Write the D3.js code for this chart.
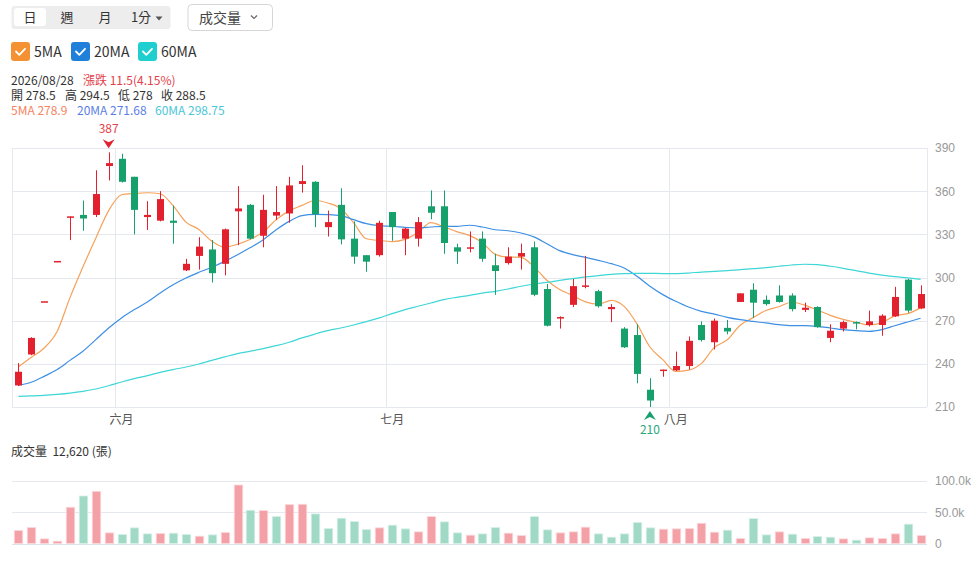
<!DOCTYPE html>
<html lang="zh-Hant">
<head>
<meta charset="UTF-8">
<title>K線圖</title>
<script src="https://cdn.jsdelivr.net/npm/d3@7"></script>
<style>
    html, body { margin: 0; padding: 0; background: #fff; }
    svg { display: block; font-family: "Noto Sans CJK TC", "Noto Sans", sans-serif; }
</style>
</head>
<body>
<div id="chart"></div>
<script>
// trading days (MM/DD), 2026
const dates = [
    "05/20","05/21","05/22","05/25","05/26","05/27","05/28","05/29",
    "06/01","06/02","06/03","06/04","06/05","06/08","06/09","06/10","06/11","06/12",
    "06/15","06/16","06/17","06/18","06/22","06/23","06/24","06/25","06/26","06/29","06/30",
    "07/01","07/02","07/03","07/06","07/07","07/08","07/09","07/10","07/13","07/14","07/15",
    "07/16","07/17","07/20","07/21","07/22","07/23","07/24","07/27","07/28","07/29","07/31",
    "08/03","08/04","08/05","08/06","08/07","08/10","08/11","08/12","08/13","08/14",
    "08/17","08/18","08/19","08/20","08/21","08/24","08/25","08/26","08/27","08/28"
];
const opens = [
    225, 246.5, 283.5, 311.5, 342.5, 343.5, 343.5, 377.5, 382.5, 370,
    342, 339.5, 339.5, 305, 315, 319.5, 309.5, 346, 350.5, 329,
    343, 344.5, 365, 366.5, 335, 350.5, 327, 315.5, 315.5, 345.5,
    327, 327, 349.5, 349.5, 321, 320, 327, 308.5, 310, 314.5,
    321, 292, 272, 281, 293.5, 290.5, 278, 264.5, 260, 222,
    236, 235.5, 238.5, 267, 255, 265, 283, 291.5, 284.5, 287.5,
    287.5, 277.5, 279.5, 258, 264.5, 269, 267, 267, 273, 298.5, 278.5
];
const highs = [
    240.5, 258.5, 283.5, 311.5, 342.5, 353.5, 374.5, 387, 386, 370,
    353, 360, 350, 313, 328, 326, 334, 363.5, 351, 357.5,
    363.5, 370, 378, 367, 346.5, 362, 339, 315.5, 339.5, 345.5,
    334.5, 342, 360.5, 360.5, 323.5, 332, 332, 316.5, 321, 323.5,
    325, 295.5, 273, 299, 315, 291.5, 281.5, 265.5, 267.5, 230,
    236, 248.5, 259, 269.5, 271.5, 270.5, 289, 296, 287.5, 294.5,
    289, 282.5, 280, 267.5, 270, 269.5, 277, 274.5, 293.5, 299, 294.5
];
const lows = [
    224.5, 246, 283.5, 311.5, 326, 332.5, 342, 367.5, 366, 330,
    333, 339, 323.5, 304.5, 305.5, 296.5, 301.5, 322.5, 326.5, 321,
    340, 338, 359, 335, 328.5, 323, 309.5, 304, 314.5, 325.5,
    315.5, 321.5, 340.5, 316.5, 309.5, 317.5, 311, 288, 309, 305.5,
    287, 266, 264.5, 279.5, 292.5, 279, 269, 251, 226.5, 210,
    231, 235, 236, 255.5, 250, 260.5, 283, 272, 280.5, 282.5,
    276.5, 276, 265, 255, 262.5, 264, 266, 259.5, 272.5, 275.5, 278
];
const closes = [
    234.5, 258, 283.5, 311.5, 342.5, 341, 358, 379.5, 366.5, 347,
    343.5, 354.5, 338, 309.5, 321.5, 303, 333.5, 348, 327, 347,
    345.5, 364, 367, 344, 338.5, 326.5, 314.5, 311, 338, 335,
    334, 338.5, 345, 324, 318, 321, 313, 304.5, 314.5, 317,
    288, 266.5, 272.5, 294, 294.5, 280, 279.5, 251.5, 233, 214.5,
    236, 238.5, 256, 256.5, 270, 262.5, 289, 282.5, 281.5, 283,
    278, 279, 265.5, 263, 269, 268, 269.5, 273.5, 286.5, 277, 288.5
];
const prevClose = 225; // close of the day before the first candle
const volumes = [
    20700, 25500, 7400, 3700, 58000, 76000, 83500, 17000, 14400, 25000,
    15400, 16000, 16500, 14400, 11700, 13800, 17600, 93600, 53200, 52700,
    43000, 62200, 62800, 47300, 23900, 40400, 35100, 22300, 25000, 29300,
    23400, 18600, 43100, 34600, 17000, 13300, 15400, 25500, 16500, 12800,
    43100, 21800, 17000, 18600, 26100, 15400, 10100, 15400, 33500, 25000,
    22900, 23400, 23900, 32400, 18100, 21300, 8000, 39900, 13800, 18600,
    14900, 8000, 11200, 10100, 7400, 5300, 9000, 8000, 15400, 30900, 12620
];
const ma5 = [
    238, 244.5, 251, 262.5, 286, 307.3, 327.3, 346.5, 357.5, 358.4,
    358.9, 358.2, 349.9, 338.5, 333.4, 325.3, 321.1, 323.1, 326.6, 331.7,
    340.2, 346.3, 350.1, 353.5, 351.8, 348, 338.1, 326.9, 325.7, 325,
    326.5, 331.3, 338.1, 335.3, 331.9, 329.3, 324.2, 316.1, 314.2, 314,
    307.4, 298.1, 291.7, 287.6, 283.1, 281.5, 284.1, 279.9, 267.7, 251.7,
    242.9, 234.7, 235.6, 240.3, 251.4, 256.7, 266.8, 272.1, 277.1, 279.7,
    282.8, 280.8, 277.4, 273.7, 270.9, 268.9, 267, 268.6, 273.3, 274.9, 278.9
];
const ma20 = [
    225.1, 227.2, 231.3, 236, 242.4, 248.7, 256.8, 264.9, 271.9, 277.7,
    283, 289.2, 295, 299.7, 303.6, 307.1, 311.2, 315.8, 320.8, 326.3,
    333.2, 339, 343, 343.9, 343.7, 343, 340.2, 337.4, 336, 335.6,
    334.9, 334.4, 335.1, 335.6, 335.6, 336.3, 335.1, 333.2, 332.5, 330.9,
    328.2, 323.5, 318.7, 315.9, 314, 311.9, 309.6, 306.6, 300.8, 293.9,
    288.1, 283.5, 279.5, 276.5, 274.5, 272.3, 270.7, 269.5, 268.4, 267.2,
    266.5, 266.5, 266, 264.9, 263.8, 263.1, 262.6, 263.8, 266.5, 269.1, 271.68
];
const ma60 = [
    217.4, 217.7, 218.1, 218.8, 219.7, 220.9, 222.5, 224.8, 227.4, 229.7,
    231.8, 234.1, 236, 237.8, 239.9, 242.4, 244.8, 247.1, 248.8, 250.6,
    252.6, 255, 258, 260.7, 263.1, 264.9, 267, 269.3, 271.9, 274.9,
    277.7, 280, 282.3, 284.6, 286.2, 287.6, 289.2, 290.4, 292, 293.9,
    295.5, 296.6, 298, 299.2, 300.4, 301.3, 302.2, 302.7, 302.9, 302.9,
    302.7, 302.7, 303.1, 303.8, 304.3, 304.8, 305.5, 306.1, 306.8, 307.8,
    308.7, 309.2, 308.9, 307.8, 306.4, 304.8, 303.1, 301.7, 300.6, 299.7, 298.75
];
const priceTicks = [210, 240, 270, 300, 330, 360, 390];
const volTicks = [0, 50000, 100000];
const monthLabels = { "06": "六月", "07": "七月", "08": "八月" };
const periods = ["日", "週", "月", "1分"];
const maNames = ["5MA", "20MA", "60MA"];

const w = 978, h = 563;
const left = 12, right = 927;
const upColor = "#e3202d", downColor = "#16a06c";
const maColors = ["#f6a15a", "#3d8fe4", "#3fd6d6"];
const maTextColors = ["#f4845f", "#5b7fe6", "#4cc6d8"];
const gridColor = "#e6e8ef";

const svg = d3.select("#chart").append("svg")
    .attr("width", w)
    .attr("height", h);

// ---------- top controls ----------
svg.append("rect")
    .attr("x", 11.5).attr("y", 6).attr("width", 159).attr("height", 23)
    .attr("rx", 3).attr("fill", "#ededed");
svg.append("rect")
    .attr("x", 14).attr("y", 8).attr("width", 32).attr("height", 18)
    .attr("rx", 3).attr("fill", "#fff");
const periodX = [30, 67, 105, 141];
svg.selectAll(".period")
    .data(periods)
    .enter()
    .append("text")
    .attr("class", "period")
    .attr("x", (d, i) => periodX[i])
    .attr("y", 22)
    .attr("text-anchor", "middle")
    .attr("font-size", 13)
    .attr("fill", "#333")
    .text(d => d);
svg.append("path")
    .attr("d", "M155.5,16.5 L162.5,16.5 L159,20.5 Z")
    .attr("fill", "#555");

svg.append("rect")
    .attr("x", 188).attr("y", 4.5).attr("width", 84.5).attr("height", 26)
    .attr("rx", 4).attr("fill", "#fff")
    .attr("stroke", "#d6d6d6");
svg.append("text")
    .attr("x", 199).attr("y", 23)
    .attr("font-size", 14)
    .attr("fill", "#444")
    .text("成交量");
svg.append("path")
    .attr("d", "M251,15.5 L254,18.5 L257,15.5")
    .attr("fill", "none")
    .attr("stroke", "#666")
    .attr("stroke-width", 1.2);

// ---------- MA checkboxes ----------
const boxX = [11, 71, 138];
const boxes = svg.selectAll(".ma-box")
    .data(maNames)
    .enter()
    .append("g")
    .attr("class", "ma-box")
    .attr("transform", (d, i) => "translate(" + boxX[i] + ",42)");
boxes.append("rect")
    .attr("width", 19).attr("height", 19).attr("rx", 3)
    .attr("fill", (d, i) => ["#f39133", "#1f7fd9", "#1fcfd0"][i]);
boxes.append("path")
    .attr("d", "M5,9.5 L8.3,12.8 L14,6.8")
    .attr("fill", "none")
    .attr("stroke", "#fff")
    .attr("stroke-width", 1.8)
    .attr("stroke-linecap", "round")
    .attr("stroke-linejoin", "round");
boxes.append("text")
    .attr("x", 23).attr("y", 15)
    .attr("font-size", 14)
    .attr("fill", "#333")
    .text(d => d);

// ---------- info block: three lines in one text element ----------
const last = closes.length - 1;
const chg = closes[last] - closes[last - 1];
const pct = chg / closes[last - 1] * 100;
const maLast = [ma5[last], ma20[last], ma60[last]];

const infoParts = [
    { x: 11, y: 85, fill: "#333", t: "2026/" + dates[last] },
    { x: 83, y: 85, fill: "#e2414b", t: "漲跌 " + chg + "(" + pct.toFixed(2) + "%)" },
    { x: 11, y: 100, fill: "#333", t: "開 " + opens[last] },
    { x: 65, y: 100, fill: "#333", t: "高 " + highs[last] },
    { x: 118, y: 100, fill: "#333", t: "低 " + lows[last] },
    { x: 161, y: 100, fill: "#333", t: "收 " + closes[last] },
    { x: 11, y: 115, fill: maTextColors[0], t: maNames[0] + " " + maLast[0] },
    { x: 77, y: 115, fill: maTextColors[1], t: maNames[1] + " " + maLast[1] },
    { x: 155, y: 115, fill: maTextColors[2], t: maNames[2] + " " + maLast[2] }
];
svg.append("text")
    .attr("font-size", 12)
    .selectAll("tspan")
    .data(infoParts)
    .enter()
    .append("tspan")
    .attr("x", d => d.x)
    .attr("y", d => d.y)
    .attr("fill", d => d.fill)
    .text(d => d.t);

// ---------- scales ----------
const idx = d3.range(dates.length);
const xScale = d3.scaleBand()
    .domain(idx)
    .range([left, right])
    .padding(0);
const cx = i => xScale(i) + xScale.bandwidth() / 2;
const yScale = d3.scaleLinear()
    .domain([210, 390])
    .range([407, 148]);
const vScale = d3.scaleLinear()
    .domain([0, 100000])
    .range([543.5, 481]);

// ---------- price grid ----------
svg.append("g")
    .selectAll("line")
    .data(priceTicks)
    .enter()
    .append("line")
    .attr("x1", left).attr("x2", right)
    .attr("y1", d => Math.round(yScale(d)) + 0.5)
    .attr("y2", d => Math.round(yScale(d)) + 0.5)
    .attr("stroke", gridColor);

// month split lines + labels
const monthStarts = idx.filter(i => i > 0 && dates[i].slice(0, 2) !== dates[i - 1].slice(0, 2));
svg.append("g")
    .selectAll("line")
    .data(monthStarts)
    .enter()
    .append("line")
    .attr("x1", i => Math.round(xScale(i)) + 0.5)
    .attr("x2", i => Math.round(xScale(i)) + 0.5)
    .attr("y1", 148).attr("y2", 407)
    .attr("stroke", gridColor);
svg.append("g")
    .selectAll("line")
    .data([left, right])
    .enter()
    .append("line")
    .attr("x1", d => d + 0.5).attr("x2", d => d + 0.5)
    .attr("y1", 148).attr("y2", 407)
    .attr("stroke", gridColor);
svg.append("g")
    .selectAll("text")
    .data(monthStarts)
    .enter()
    .append("text")
    .attr("x", i => cx(i))
    .attr("y", 424)
    .attr("text-anchor", "middle")
    .attr("font-size", 12)
    .attr("fill", "#555")
    .text(i => monthLabels[dates[i].slice(0, 2)]);

// price axis on the right
const yAxis = d3.axisRight(yScale)
    .tickValues(priceTicks)
    .tickSize(0)
    .tickPadding(8);
svg.append("g")
    .attr("transform", "translate(" + right + ",0)")
    .call(yAxis)
    .call(g => g.select(".domain").remove())
    .call(g => g.selectAll("text")
        .attr("font-size", 12)
        .attr("font-family", null)
        .attr("fill", "#999"));

// ---------- moving averages ----------
const maData = [ma5, ma20, ma60];
const line = d3.line()
    .x((d, i) => cx(i))
    .y(d => yScale(d))
    .curve(d3.curveMonotoneX);
svg.append("g")
    .selectAll("path")
    .data(maData)
    .enter()
    .append("path")
    .attr("d", d => line(d))
    .attr("fill", "none")
    .attr("stroke", (d, i) => maColors[i])
    .attr("stroke-width", 1.2);

// ---------- candles ----------
function sign(i) {
    if (closes[i] > opens[i]) return 1;
    if (closes[i] < opens[i]) return -1;
    const pc = i > 0 ? closes[i - 1] : prevClose;
    return closes[i] >= pc ? 1 : -1;
}
const bodyW = 7;
const candles = svg.append("g")
    .selectAll("g")
    .data(idx)
    .enter()
    .append("g");
candles.append("line")
    .attr("x1", i => Math.round(cx(i)) + 0.5)
    .attr("x2", i => Math.round(cx(i)) + 0.5)
    .attr("y1", i => yScale(highs[i]))
    .attr("y2", i => yScale(lows[i]))
    .attr("stroke", i => sign(i) > 0 ? upColor : downColor)
    .attr("stroke-width", 1);
candles.append("rect")
    .attr("x", i => Math.round(cx(i)) + 0.5 - bodyW / 2)
    .attr("y", i => yScale(Math.max(opens[i], closes[i])))
    .attr("width", bodyW)
    .attr("height", i => Math.max(1.5, yScale(Math.min(opens[i], closes[i])) - yScale(Math.max(opens[i], closes[i]))))
    .attr("fill", i => sign(i) > 0 ? upColor : downColor);

// max / min markers
const hiIdx = d3.maxIndex(highs);
const loIdx = d3.minIndex(lows);
const hx = cx(hiIdx), hy = yScale(highs[hiIdx]);
svg.append("path")
    .attr("d", "M" + (hx - 6) + "," + (hy - 13) + " L" + hx + "," + (hy - 10) + " L" + (hx + 6) + "," + (hy - 13) + " L" + hx + "," + (hy - 4) + " Z")
    .attr("fill", upColor);
svg.append("text")
    .attr("x", hx).attr("y", hy - 19)
    .attr("text-anchor", "middle")
    .attr("font-size", 12)
    .attr("fill", "#e2414b")
    .text(highs[hiIdx]);

const lx = cx(loIdx), ly = yScale(lows[loIdx]);
svg.append("path")
    .attr("d", "M" + (lx - 6) + "," + (ly + 13) + " L" + lx + "," + (ly + 10) + " L" + (lx + 6) + "," + (ly + 13) + " L" + lx + "," + (ly + 4) + " Z")
    .attr("fill", downColor);
svg.append("text")
    .attr("x", lx).attr("y", ly + 27)
    .attr("text-anchor", "middle")
    .attr("font-size", 12)
    .attr("fill", "#2aa87a")
    .text(lows[loIdx]);

// ---------- volume panel ----------
svg.append("text")
    .attr("x", 11).attr("y", 456)
    .attr("font-size", 12)
    .attr("fill", "#333")
    .text("成交量\u00a0\u00a0" + d3.format(",")(volumes[last]) + " (張)");

svg.append("g")
    .selectAll("line")
    .data(volTicks)
    .enter()
    .append("line")
    .attr("x1", left).attr("x2", right)
    .attr("y1", d => Math.round(vScale(d)) + 0.5)
    .attr("y2", d => Math.round(vScale(d)) + 0.5)
    .attr("stroke", d => d === 0 ? "#dde1ea" : gridColor);

const volUp = i => closes[i] >= (i > 0 ? closes[i - 1] : prevClose);
const volW = 8.5;
svg.append("g")
    .selectAll("rect")
    .data(idx)
    .enter()
    .append("rect")
    .attr("x", i => Math.round(cx(i)) + 0.5 - volW / 2)
    .attr("y", i => vScale(volumes[i]))
    .attr("width", volW)
    .attr("height", i => vScale(0) - vScale(volumes[i]))
    .attr("fill", i => volUp(i) ? "#f3a1a6" : "#a0d9c5")
    .attr("stroke", i => volUp(i) ? "#fbd9dc" : "#d7f0e7")
    .attr("stroke-width", 0.8);

const vAxis = d3.axisRight(vScale)
    .tickValues(volTicks)
    .tickSize(0)
    .tickPadding(8)
    .tickFormat(d => d === 0 ? "0" : (d / 1000).toFixed(1) + "k");
svg.append("g")
    .attr("transform", "translate(" + right + ",0)")
    .call(vAxis)
    .call(g => g.select(".domain").remove())
    .call(g => g.selectAll("text")
        .attr("font-size", 12)
        .attr("font-family", null)
        .attr("fill", "#999"));
</script>
</body>
</html>
